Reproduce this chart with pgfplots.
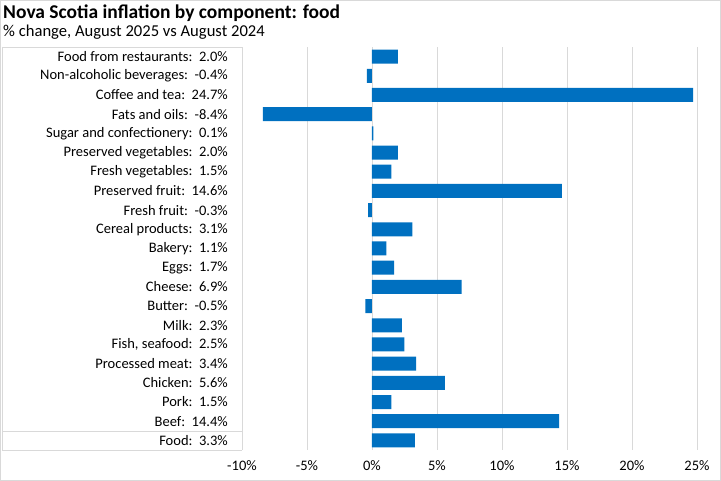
\documentclass[border=0pt]{standalone}
\usepackage{pgfplots}
\pgfplotsset{compat=1.18}
\usepackage{fontspec}
\setmainfont{Carlito}
\definecolor{barblue}{RGB}{0,112,192}
\definecolor{gridgray}{RGB}{217,217,217}
\begin{document}
\begin{tikzpicture}[x=1pt,y=1pt]
\useasboundingbox (0,0) rectangle (721,481);
\draw[gridgray, line width=1pt] (0.5,0.5) rectangle (720.5,480.5);
\node[anchor=base west, inner sep=0pt, font=\fontsize{19.5}{21}\selectfont\bfseries] at (3,462) {Nova Scotia inflation by component: food};
\node[anchor=base west, inner sep=0pt, font=\fontsize{16.6}{18}\selectfont] at (3,444) {\% change, August 2025 vs August 2024};
\begin{axis}[
  at={(242pt,31pt)}, anchor=south west,
  width=468pt, height=403pt, scale only axis,
  xbar, bar width=14pt,
  xmin=-10, xmax=26, ymin=-0.5, ymax=20.5,
  axis line style={draw=none},
  major tick length=0pt,
  xtick={-10,-5,0,5,10,15,20,25},
  xticklabels={-10\%,-5\%,0\%,5\%,10\%,15\%,20\%,25\%},
  xmajorgrids, major grid style={gridgray, line width=0.8pt},
  xticklabel style={font=\fontsize{14.5}{16}\selectfont, anchor=base, yshift=-21pt, inner sep=0pt},
  ytick={0,...,20},
  yticklabels={Food:\ \ 3.3\%, Beef:\ \ 14.4\%, Pork:\ \ 1.5\%, Chicken:\ \ 5.6\%, Processed meat:\ \ 3.4\%, {Fish, seafood:\ \ 2.5\%}, Milk:\ \ 2.3\%, Butter:\ \ -0.5\%, Cheese:\ \ 6.9\%, Eggs:\ \ 1.7\%, Bakery:\ \ 1.1\%, Cereal products:\ \ 3.1\%, Fresh fruit:\ \ -0.3\%, Preserved fruit:\ \ 14.6\%, Fresh vegetables:\ \ 1.5\%, Preserved vegetables:\ \ 2.0\%, Sugar and confectionery:\ \ 0.1\%, Fats and oils:\ \ -8.4\%, Coffee and tea:\ \ 24.7\%, Non-alcoholic beverages:\ \ -0.4\%, Food from restaurants:\ \ 2.0\%},
  yticklabel style={font=\fontsize{14.5}{16}\selectfont, anchor=east, inner sep=0pt, xshift=-14pt},
]
\addplot[fill=barblue, draw=none] coordinates {
(3.3,0) (14.4,1) (1.5,2) (5.6,3) (3.4,4) (2.5,5) (2.3,6) (-0.5,7) (6.9,8) (1.7,9) (1.1,10) (3.1,11) (-0.3,12) (14.6,13) (1.5,14) (2.0,15) (0.1,16) (-8.4,17) (24.7,18) (-0.4,19) (2.0,20)
};
\end{axis}
\draw[gridgray, line width=0.8pt] (2,434) -- (242,434);
\draw[gridgray, line width=0.8pt] (2,49.5) -- (242,49.5);
\draw[gridgray, line width=0.8pt] (2,31) -- (242,31);
\draw[gridgray, line width=0.8pt] (2,434) -- (2,31);
\end{tikzpicture}
\end{document}
